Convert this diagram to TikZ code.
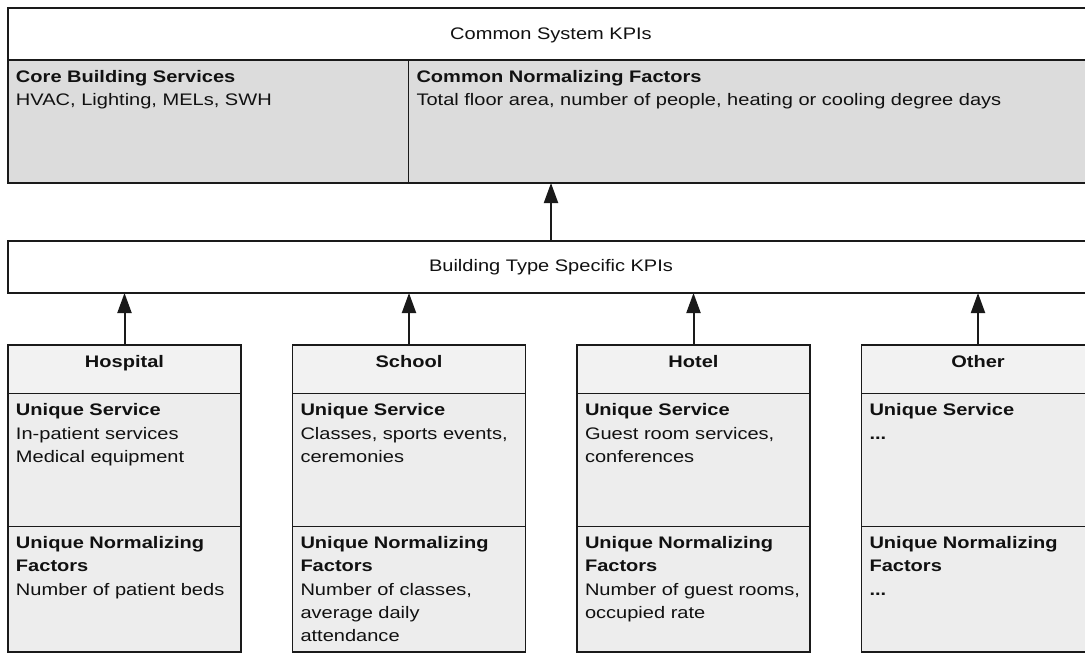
\documentclass[tikz,border=0pt]{standalone}
\usepackage{fontspec}
\setmainfont{Liberation Sans}[FakeStretch=1.2]
\usetikzlibrary{arrows.meta}
\definecolor{linec}{HTML}{1A1A1A}
\definecolor{graytop}{HTML}{DCDCDC}
\definecolor{hdrfill}{HTML}{F2F2F2}
\definecolor{bodyfill}{HTML}{EDEDED}
\definecolor{txt}{HTML}{111111}
\newcommand\bldbox[5]{%
  \node[sec, fill=hdrfill, minimum width=233pt, minimum height=48pt] (#1head) at (#2,345) {};
  \node[sec, fill=bodyfill, minimum width=233pt, minimum height=133pt] (#1svc) at (#2,393) {};
  \node[sec, fill=bodyfill, minimum width=233pt, minimum height=126pt] (#1fac) at (#2,526) {};
  \draw[frame] (#1head.north west) rectangle (#1fac.south east);
  \node[ttl, anchor=base] (#1title) at ([yshift=-22pt]#1head.north) {#3};
  \node[lbl] (#1svctext) at ([xshift=8pt,yshift=-22.7pt]#1svc.north west) {\textbf{Unique Service}\\#4};
  \node[lbl] (#1factext) at ([xshift=8pt,yshift=-22.3pt]#1fac.north west) {\textbf{Unique Normalizing}\\\textbf{Factors}\\#5};
}
\begin{document}
\begin{tikzpicture}[x=1pt,y=-1pt,
  sec/.style={anchor=north west, inner sep=0pt, outer sep=0pt, draw=linec, line width=1pt},
  frame/.style={draw=linec, line width=1.8pt},
  lbl/.style={anchor=base west, inner sep=0pt, outer sep=0pt, text width=#1, align=left,
    font=\fontsize{16.7}{23.4}\selectfont, text=txt},
  lbl/.default=224pt,
  ttl/.style={inner sep=0pt, outer sep=0pt, font=\fontsize{16.7}{23.4}\selectfont\bfseries, text=txt},
  plain/.style={inner sep=0pt, outer sep=0pt, font=\fontsize{16.7}{23.4}\selectfont, text=txt, anchor=base},
  arr/.style={draw=linec, line width=2pt, -{Triangle[length=20pt,width=14pt]}}
]
\clip (0,0) rectangle (1085,654);
\fill[white] (0,0) rectangle (1085,654);

% top box
\node[sec, fill=white, minimum width=1086pt, minimum height=52pt] (syshead) at (8,8) {};
\node[sec, fill=graytop, minimum width=400.5pt, minimum height=123pt] (core) at (8,60) {};
\node[sec, fill=graytop, minimum width=685.5pt, minimum height=123pt] (norm) at (408.5,60) {};
\draw[frame] (syshead.south west) -- (syshead.south east);
\draw[frame] (syshead.north west) rectangle (norm.south east);
\node[plain] (systext) at ([yshift=-31.5pt]syshead.north) {Common System KPIs};
\node[lbl=385pt] (coretext) at ([xshift=8pt,yshift=-22.3pt]core.north west) {\textbf{Core Building Services}\\HVAC, Lighting, MELs, SWH};
\node[lbl=675pt] (normtext) at ([xshift=8pt,yshift=-22.3pt]norm.north west) {\textbf{Common Normalizing Factors}\\Total floor area, number of people, heating or cooling degree days};

% middle box
\node[sec, fill=white, minimum width=1086pt, minimum height=52pt] (mid) at (8,241) {};
\draw[frame] (mid.north west) rectangle (mid.south east);
\node[plain] (midtext) at ([yshift=-30.7pt]mid.north) {Building Type Specific KPIs};

% building type boxes
\bldbox{hosp}{8}{Hospital}{In-patient services\\Medical equipment}{Number of patient beds}
\bldbox{school}{292.5}{School}{Classes, sports events,\\ceremonies}{Number of classes,\\average daily\\attendance}
\bldbox{hotel}{577}{Hotel}{Guest room services,\\conferences}{Number of guest rooms,\\occupied rate}
\bldbox{other}{861.5}{Other}{\textbf{...}}{\textbf{...}}

% arrows
\draw[arr] (mid.north) -- (mid.north |- core.south);
\foreach \b in {hosp,school,hotel,other}{
  \draw[arr] (\b head.north) -- (\b head.north |- mid.south);
}
\end{tikzpicture}
\end{document}
